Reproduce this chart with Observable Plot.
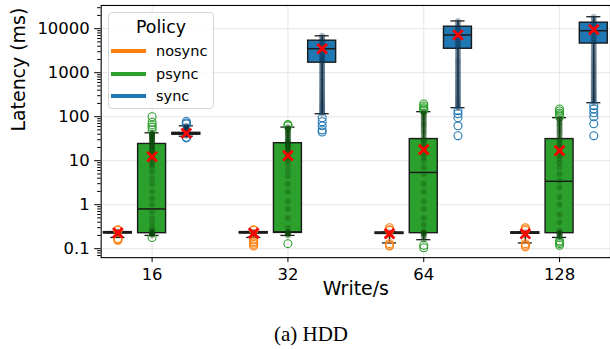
<!DOCTYPE html>
<html><head><meta charset="utf-8">
<script src="https://cdn.jsdelivr.net/npm/d3@7"></script>
<script src="https://cdn.jsdelivr.net/npm/@observablehq/plot@0.6"></script>
<style>
html,body{margin:0;padding:0;background:#fff;overflow:hidden;width:610px;height:349px}
#wrap{position:relative;width:610px;height:349px;font-family:"DejaVu Sans",sans-serif;overflow:hidden}
#chart{position:absolute;left:0;top:0}
#legend{position:absolute;left:108px;top:12px;width:104px;height:95px;border:1px solid #d5d5d5;border-radius:4px;background:rgba(255,255,255,0.8);color:#000}
#legend .title{position:absolute;left:0;width:104px;top:3px;text-align:center;font-size:17.4px;line-height:22px}
#legend .row{position:absolute;left:0;height:20px;width:104px}
#legend .sw{position:absolute;left:2px;top:8px;width:35px;height:4px}
#legend .lab{position:absolute;left:47px;top:0;font-size:14.5px;line-height:20px}
#caption{position:absolute;left:0;top:319px;width:622px;text-align:center;font-family:"Liberation Serif","Times New Roman",serif;font-size:21px;line-height:30px;color:#000}
</style>
</head><body>
<div id="wrap"><div id="chart"></div><div id="legend"></div><div id="caption">(a) HDD</div></div>
<script>
// ---- data ----
const categories = ["16", "32", "64", "128"];
const policies = ["nosync", "psync", "sync"];
const policyColors = ["#ff7f0e", "#2ca02c", "#1f77b4"];
const stripColors = ["#7a3800", "#0d4a0d", "#0c3350"];

// box statistics per policy, one value per category
const nosyncQ1 = [0.222, 0.222, 0.216, 0.218];
const nosyncMedian = [0.23, 0.23, 0.225, 0.228];
const nosyncQ3 = [0.238, 0.238, 0.234, 0.236];
const nosyncWhiskerLow = [0.18, 0.18, 0.135, 0.135];
const nosyncWhiskerHigh = [0.245, 0.245, 0.24, 0.24];
const nosyncMean = [0.23, 0.225, 0.22, 0.218];

const psyncQ1 = [0.225, 0.228, 0.225, 0.225];
const psyncMedian = [0.8, 0.24, 5.4, 3.4];
const psyncQ3 = [24, 25, 31, 31];
const psyncWhiskerLow = [0.2, 0.2, 0.16, 0.18];
const psyncWhiskerHigh = [43, 58, 130, 95];
const psyncMean = [12.3, 13, 17.8, 17];

const syncQ1 = [39, 1690, 3500, 4600];
const syncMedian = [41, 3510, 7200, 9000];
const syncQ3 = [43, 5340, 11100, 13700];
const syncWhiskerLow = [36, 117, 160, 208];
const syncWhiskerHigh = [62, 6900, 15000, 18700];
const syncMean = [42, 3500, 7200, 9500];

// outliers (open circles)
const nosyncOutliers = [[0.27, 0.26, 0.17, 0.16, 0.155], [0.27, 0.26, 0.16, 0.145, 0.135, 0.125, 0.115], [0.3, 0.27, 0.26, 0.13, 0.12, 0.115], [0.3, 0.28, 0.26, 0.13, 0.12, 0.11]];
const psyncOutliers = [[50, 58, 65, 75, 100, 0.18], [62, 66, 0.13], [140, 150, 160, 175, 195, 0.105, 0.12], [100, 110, 120, 135, 150, 0.12, 0.13, 0.14, 0.15]];
const syncOutliers = [[68, 72, 78, 34, 33], [95, 77, 62, 50, 45], [137, 117, 95, 62, 37], [178, 150, 123, 100, 69, 37]];

// individual latency samples (strip)
const nosyncStrip = [[0.21, 0.22, 0.225, 0.23, 0.23, 0.235, 0.24, 0.245], [0.21, 0.22, 0.225, 0.23, 0.23, 0.235, 0.24], [0.2, 0.215, 0.22, 0.225, 0.23, 0.235], [0.2, 0.215, 0.22, 0.225, 0.23, 0.235]];
const psyncStrip = [
  [0.2, 0.21, 0.215, 0.22, 0.22, 0.225, 0.23, 0.23, 0.24, 0.26, 0.3, 0.38, 0.5, 0.7, 1.0, 1.4, 2.0, 3.0, 4.0, 5.5, 7, 8, 9, 10, 11, 12, 13, 14, 15, 16, 17, 18, 19, 20, 21, 22, 23, 24, 25, 26, 27, 28, 29, 30, 31, 32, 33, 34, 35, 36, 37, 38, 39, 40, 41, 42, 43],
  [0.2, 0.21, 0.22, 0.22, 0.225, 0.23, 0.23, 0.24, 0.3, 0.5, 0.8, 1.2, 2, 3, 4.5, 6, 8, 10, 11, 12, 13, 14, 15, 16, 17, 18, 19, 20, 21, 22, 23, 24, 25, 26, 27, 28, 29, 30, 32, 34, 36, 38, 40, 42, 44, 46, 48, 50, 52, 54, 56, 58],
  [0.16, 0.18, 0.2, 0.21, 0.22, 0.22, 0.23, 0.23, 0.25, 0.35, 0.5, 0.8, 1.2, 2, 3, 5, 7, 10, 12, 14, 16, 18, 20, 22, 25, 28, 30, 33, 36, 40, 43, 46, 50, 54, 58, 62, 66, 70, 75, 80, 86, 92, 98, 105, 112, 118, 125, 130],
  [0.18, 0.19, 0.2, 0.21, 0.22, 0.22, 0.23, 0.23, 0.26, 0.4, 0.6, 1, 1.5, 2.5, 3.5, 5, 7, 9, 11, 13, 15, 17, 19, 21, 23, 26, 29, 32, 35, 38, 41, 44, 47, 50, 54, 58, 62, 66, 70, 75, 80, 85, 90, 95]
];
const syncStrip = [
  [37, 38, 39, 40, 40, 41, 41, 42, 42, 43, 44, 45, 46, 47, 48, 50, 52, 53, 55, 56, 58, 60, 62],
  [117, 125, 132, 140, 150, 160, 170, 180, 192, 205, 220, 235, 250, 270, 290, 310, 335, 360, 390, 420, 450, 490, 530, 570, 620, 670, 720, 780, 850, 920, 1000, 1080, 1170, 1270, 1380, 1500, 1620, 1750, 1900, 2050, 2250, 2450, 2700, 3000, 3300, 3600, 4000, 4400, 4800, 5300, 5800, 6300, 6900],
  [160, 170, 182, 195, 210, 225, 240, 258, 278, 300, 325, 350, 380, 410, 445, 480, 520, 565, 610, 660, 720, 780, 850, 920, 1000, 1090, 1190, 1300, 1420, 1550, 1700, 1850, 2000, 2200, 2450, 2700, 3000, 3350, 3700, 4100, 4600, 5100, 5700, 6400, 7200, 8000, 9000, 10000, 11000, 12200, 13500, 15000],
  [208, 222, 238, 255, 272, 292, 315, 340, 365, 395, 425, 460, 500, 540, 585, 635, 690, 750, 815, 885, 960, 1040, 1130, 1230, 1340, 1460, 1600, 1750, 1920, 2100, 2300, 2550, 2800, 3100, 3450, 3850, 4300, 4800, 5400, 6100, 6900, 7800, 8700, 9700, 10800, 12000, 13500, 15000, 16800, 18700]
];

const yTicks = [0.1, 1, 10, 100, 1000, 10000];

// ---- build tables ----
const stats = {
  nosync: [nosyncQ1, nosyncMedian, nosyncQ3, nosyncWhiskerLow, nosyncWhiskerHigh, nosyncMean, nosyncOutliers, nosyncStrip],
  psync: [psyncQ1, psyncMedian, psyncQ3, psyncWhiskerLow, psyncWhiskerHigh, psyncMean, psyncOutliers, psyncStrip],
  sync: [syncQ1, syncMedian, syncQ3, syncWhiskerLow, syncWhiskerHigh, syncMean, syncOutliers, syncStrip]
};
const OFFSET = 0.252, HALF = 0.103, CAP = 0.052;
const boxes = [], outliers = [], strip = [];
policies.forEach((p, pi) => {
  const [q1, med, q3, wlo, whi, mean, outs, pts] = stats[p];
  categories.forEach((c, ci) => {
    const x = ci + (pi - 1) * OFFSET;
    boxes.push({policy: p, x, q1: q1[ci], med: med[ci], q3: q3[ci], wlo: wlo[ci], whi: whi[ci], mean: mean[ci]});
    outs[ci].forEach(v => outliers.push({policy: p, x, v}));
    pts[ci].forEach(v => strip.push({policy: p, x, v}));
  });
});
const color = d3.scaleOrdinal(policies, policyColors);
const dark = d3.scaleOrdinal(policies, stripColors);

const minor = [];
for (let e = -2; e <= 4; e++) for (let m = 2; m <= 9; m++) minor.push(m * Math.pow(10, e));

const chart = Plot.plot({
  width: 612, height: 315,
  marginLeft: 101, marginRight: 0, marginTop: 5, marginBottom: 57,
  style: {fontFamily: "DejaVu Sans", background: "white", color: "black"},
  x: {domain: [-0.375, 3.375]},
  y: {type: "log", domain: [0.0625, 33700]},
  marks: [
    Plot.gridY(yTicks, {stroke: "#e4e4e4", strokeOpacity: 1, strokeWidth: 0.9}),
    Plot.gridX([0, 1, 2, 3], {stroke: "#e4e4e4", strokeOpacity: 1, strokeWidth: 0.9}),
    Plot.ruleX(boxes, {x: "x", y1: "wlo", y2: "q1", stroke: "#1a1a1a", strokeWidth: 1.3}),
    Plot.ruleX(boxes, {x: "x", y1: "q3", y2: "whi", stroke: "#1a1a1a", strokeWidth: 1.3}),
    Plot.ruleY(boxes, {y: "wlo", x1: d => d.x - CAP, x2: d => d.x + CAP, stroke: "#1a1a1a", strokeWidth: 1.3}),
    Plot.ruleY(boxes, {y: "whi", x1: d => d.x - CAP, x2: d => d.x + CAP, stroke: "#1a1a1a", strokeWidth: 1.3}),
    Plot.rect(boxes, {x1: d => d.x - HALF, x2: d => d.x + HALF, y1: "q1", y2: "q3", fill: d => color(d.policy), stroke: "#1a1a1a", strokeWidth: 1.4}),
    Plot.ruleY(boxes, {y: "med", x1: d => d.x - HALF, x2: d => d.x + HALF, stroke: "#1a1a1a", strokeWidth: 1.5}),
    Plot.dot(outliers, {x: "x", y: "v", r: 4, stroke: d => color(d.policy), fill: "none", strokeWidth: 1.1}),
    Plot.dot(strip, {x: "x", y: "v", r: 3, fill: d => dark(d.policy), fillOpacity: 0.3, stroke: "none"}),
    Plot.dot(boxes, {x: "x", y: "mean", symbol: "times", r: 4.5, stroke: "red", strokeWidth: 2.8}),
    Plot.axisY(minor.filter(v => v > 0.0625 && v < 33700), {tickSize: 3.5, tickFormat: () => "", label: null}),
    Plot.axisY(yTicks, {tickSize: 6.5, tickPadding: 5, tickFormat: d => String(d), fontSize: 16.5, label: null}),
    Plot.axisX([0, 1, 2, 3], {tickSize: 5, tickPadding: 5.5, tickFormat: i => categories[i], fontSize: 16.5, label: null}),
    Plot.frame({stroke: "black", strokeWidth: 1.1}),
    Plot.text(["Latency (ms)"], {frameAnchor: "left", dx: -83, rotate: -90, fontSize: 19, text: d => d}),
    Plot.text(["Write/s"], {frameAnchor: "bottom", dy: 37, fontSize: 19, text: d => d})
  ]
});
document.getElementById("chart").appendChild(chart);

// legend
const leg = document.getElementById("legend");
leg.innerHTML = '<div class="title">Policy</div>' + policies.map((p, i) =>
  `<div class="row" style="top:${28 + i * 22.5}px"><div class="sw" style="background:${policyColors[i]}"></div><div class="lab">${p}</div></div>`).join("");
</script>
</body></html>
